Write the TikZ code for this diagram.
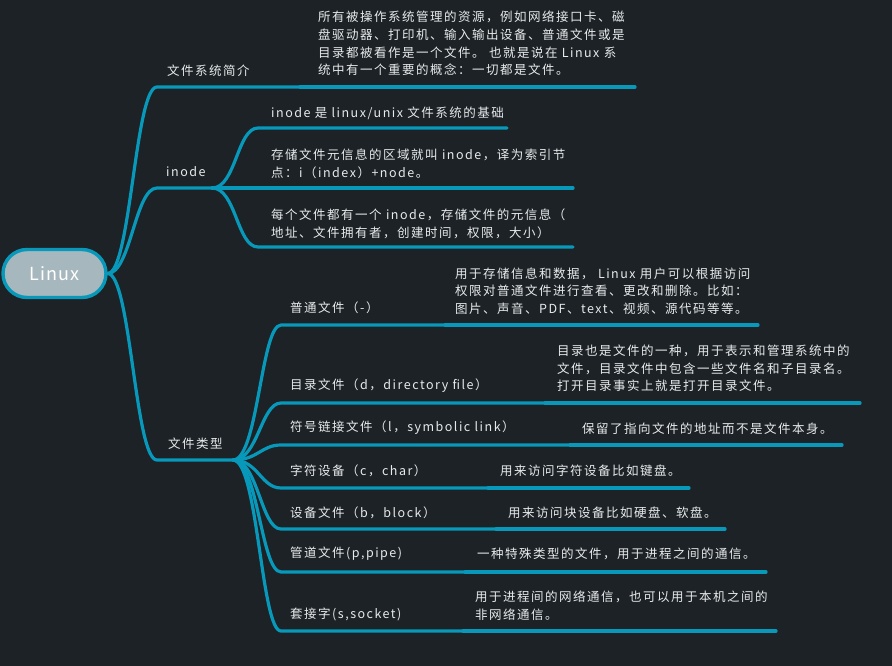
\documentclass[tikz,border=0pt]{standalone}
\usepackage{fontspec}
\setmainfont{Noto Sans CJK SC}[LetterSpace=12]
\newfontfamily\rootfont{Noto Sans CJK SC}[LetterSpace=6]
\definecolor{bgcol}{HTML}{1C2226}
\definecolor{linecol}{HTML}{0898BA}
\definecolor{txcol}{HTML}{E8EBEC}
\definecolor{rootfill}{HTML}{A6B8BE}
\tikzset{
  lbl/.style={text=txcol, font=\fontsize{12.5}{17.7}\selectfont, anchor=west, inner sep=0pt, align=left},
  conn/.style={draw=linecol, line width=3.2pt, line cap=round, line join=round},
  rootnode/.style={draw=linecol, line width=3.4pt, fill=rootfill, rounded corners=24pt,
    minimum width=103pt, minimum height=48pt, text=white, font=\rootfont\fontsize{18}{21}\selectfont, inner sep=0pt}
}
\begin{document}
\begin{tikzpicture}[x=1pt,y=-1pt]
\fill[bgcol] (0,0) rectangle (892,666);
\useasboundingbox (0,0) rectangle (892,666);

% root
\node[rootnode] (root) at (54.5,273.5) {Linux};

% ---------- level 1: 文件系统简介
\coordinate (a1) at (157,87);
\coordinate (a1m) at (300,87);
\coordinate (a1e) at (635,87);
\node[lbl] (t1) at (167,71) {文件系统简介};
\node[lbl] (d1) at (318,43.5) {所有被操作系统管理的资源，例如网络接口卡、磁\\盘驱动器、打印机、输入输出设备、普通文件或是\\目录都被看作是一个文件。 也就是说在 Linux 系\\统中有一个重要的概念：一切都是文件。};
\draw[conn] (root.east) .. controls +(23,0) and +(-22,0) .. (a1) -- (a1m);
\draw[conn] (a1m) -- (a1e);

% ---------- level 1: inode
\coordinate (a2) at (157,188);
\coordinate (a2m) at (212,188);
\node[lbl] (t2) at (166,172) {inode};
\draw[conn] (root.east) .. controls +(23,0) and +(-22,0) .. (a2) -- (a2m);

\coordinate (i1) at (258,128); \coordinate (i1e) at (507,128);
\coordinate (i2) at (258,188); \coordinate (i2e) at (573,188);
\coordinate (i3) at (258,247); \coordinate (i3e) at (573,247);
\node[lbl] (n1) at (271,113) {inode 是 linux/unix 文件系统的基础};
\node[lbl] (n2) at (271,163.5) {存储文件元信息的区域就叫 inode，译为索引节\\点：i（index）+node。};
\node[lbl] (n3) at (271,223.5) {每个文件都有一个 inode，存储文件的元信息（\\地址、文件拥有者，创建时间，权限，大小）};
\draw[conn] (a2m) .. controls +(24,0) and +(-21,0) .. (i1) -- (i1e);
\draw[conn] (a2m) -- (i2) -- (i2e);
\draw[conn] (a2m) .. controls +(24,0) and +(-21,0) .. (i3) -- (i3e);

% ---------- level 1: 文件类型
\coordinate (a3) at (157,460);
\coordinate (a3m) at (233,460);
\node[lbl] (t3) at (168,444) {文件类型};
\draw[conn] (root.east) .. controls +(23,0) and +(-22,0) .. (a3) -- (a3m);

% children of 文件类型
\coordinate (k1) at (281,325); \coordinate (k1m) at (445,325); \coordinate (k1e) at (758,325);
\coordinate (k2) at (281,403); \coordinate (k2m) at (545,403); \coordinate (k2e) at (860,403);
\coordinate (k3) at (281,445); \coordinate (k3m) at (570,445); \coordinate (k3e) at (842,445);
\coordinate (k4) at (281,488); \coordinate (k4m) at (488,488); \coordinate (k4e) at (689,488);
\coordinate (k5) at (281,529); \coordinate (k5m) at (496,529); \coordinate (k5e) at (725,529);
\coordinate (k6) at (281,572); \coordinate (k6m) at (465,572); \coordinate (k6e) at (766,572);
\coordinate (k7) at (281,631); \coordinate (k7m) at (463,631); \coordinate (k7e) at (776,631);

\node[lbl] (f1) at (290,308) {普通文件（-）};
\node[lbl] (f2) at (290,386) {目录文件（d，directory file）};
\node[lbl] (f3) at (290,428) {符号链接文件（l，symbolic link）};
\node[lbl] (f4) at (290,471) {字符设备（c，char）};
\node[lbl] (f5) at (290,513) {设备文件（b，block）};
\node[lbl] (f6) at (290,554) {管道文件(p,pipe)};
\node[lbl] (f7) at (290,614) {套接字(s,socket)};

\node[lbl] (g1) at (455,291) {用于存储信息和数据， Linux 用户可以根据访问\\权限对普通文件进行查看、更改和删除。比如：\\图片、声音、PDF、text、视频、源代码等等。};
\node[lbl] (g2) at (557,368.5) {目录也是文件的一种，用于表示和管理系统中的\\文件，目录文件中包含一些文件名和子目录名。\\打开目录事实上就是打开目录文件。};
\node[lbl] (g3) at (582,429) {保留了指向文件的地址而不是文件本身。};
\node[lbl] (g4) at (500,471) {用来访问字符设备比如键盘。};
\node[lbl] (g5) at (508,513) {用来访问块设备比如硬盘、软盘。};
\node[lbl] (g6) at (477,554) {一种特殊类型的文件，用于进程之间的通信。};
\node[lbl] (g7) at (475,606) {用于进程间的网络通信，也可以用于本机之间的\\非网络通信。};

\foreach \k in {1,...,7}{
  \draw[conn] (a3m) .. controls +(25,0) and +(-20,0) .. (k\k) -- (k\k m);
  \draw[conn] (k\k m) -- (k\k e);
}
\end{tikzpicture}
\end{document}
